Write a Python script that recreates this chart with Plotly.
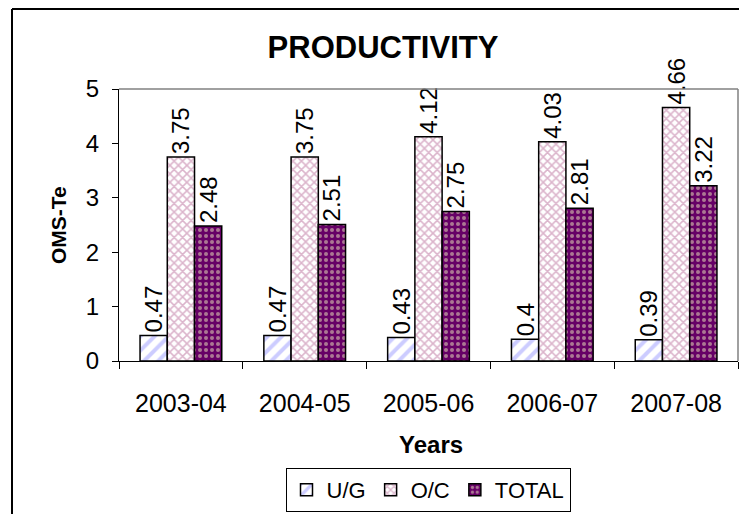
import plotly.graph_objects as go

years = ["2003-04", "2004-05", "2005-06", "2006-07", "2007-08"]
ug = [0.47, 0.47, 0.43, 0.40, 0.39]
oc = [3.75, 3.75, 4.12, 4.03, 4.66]
total = [2.48, 2.51, 2.75, 2.81, 3.22]
ug_text = ["0.47", "0.47", "0.43", "0.4", "0.39"]
oc_text = ["3.75", "3.75", "4.12", "4.03", "4.66"]
total_text = ["2.48", "2.51", "2.75", "2.81", "3.22"]

# page has an 8px body margin; figure is sized to fill the rest of the window
OFF = 8
W, H = 747 - OFF, 514 - OFF
L, R, T, B = 111, 9, 81, 153
pw, ph = W - L - R, H - T - B

def px(sx):
    return (sx - OFF - L) / pw

def py(sy):
    return (H - B - (sy - OFF)) / ph

font = "Liberation Sans, Arial, sans-serif"

fig = go.Figure()
fig.add_trace(go.Bar(
    name="U/G", x=years, y=ug, text=ug_text,
    marker=dict(color="white", line=dict(color="black", width=1.5),
                pattern=dict(shape="/", fgcolor="#9999FF", bgcolor="white", size=10, solidity=0.4)),
))
fig.add_trace(go.Bar(
    name="O/C", x=years, y=oc, text=oc_text,
    marker=dict(color="white", line=dict(color="black", width=1.5),
                pattern=dict(shape="x", fgcolor="#B86A98", bgcolor="white", size=6, solidity=0.45)),
))
fig.add_trace(go.Bar(
    name="TOTAL", x=years, y=total, text=total_text,
    marker=dict(color="#660066", line=dict(color="black", width=1.5),
                pattern=dict(shape=".", fgcolor="#F0F0C0", bgcolor="#660066", size=6, solidity=0.35)),
))
fig.update_traces(textposition="outside", textangle=-90, cliponaxis=False,
                  textfont=dict(family=font, size=24, color="black"))

fig.update_layout(
    width=W, height=H,
    margin=dict(l=L, r=R, t=T, b=B, autoexpand=False),
    paper_bgcolor="white", plot_bgcolor="white",
    barmode="group", bargap=0.34, bargroupgap=0,
    showlegend=True,
    uniformtext=dict(mode="show", minsize=24),
    title=dict(text="<b>PRODUCTIVITY</b>", x=(383 - OFF) / W, xref="container", xanchor="center",
               y=1 - (47 - OFF) / H, yref="container", yanchor="middle",
               font=dict(family=font, size=31, color="black")),
    legend=dict(orientation="h", x=px(428), xanchor="center", y=py(490), yanchor="middle",
                bordercolor="black", borderwidth=1, bgcolor="white",
                font=dict(family=font, size=22, color="black"),
                itemwidth=30, traceorder="normal", tracegroupgap=0),
    xaxis=dict(type="category", showline=True, linecolor="black", linewidth=1,
               ticks="outside", tickson="boundaries", ticklen=7, tickcolor="black",
               tickfont=dict(family=font, size=25, color="black"),
               ticklabelstandoff=20, showgrid=False),
    yaxis=dict(range=[0, 5], dtick=1, showline=True, linecolor="black", linewidth=1,
               ticks="outside", ticklen=6, tickcolor="black",
               tickfont=dict(family=font, size=24, color="black"),
               ticklabelstandoff=8, showgrid=False, zeroline=False),
    annotations=[
        dict(text="<b>Years</b>", x=px(431), y=py(444), xref="paper", yref="paper",
             showarrow=False, font=dict(family=font, size=24, color="black"),
             xanchor="center", yanchor="middle"),
        dict(text="<b>OMS-Te</b>", x=px(58), y=py(225), xref="paper", yref="paper",
             showarrow=False, textangle=-90, font=dict(family=font, size=21, color="black"),
             xanchor="center", yanchor="middle"),
    ],
    shapes=[
        dict(type="line", xref="paper", yref="paper", x0=0, x1=1, y0=1, y1=1,
             line=dict(color="#808080", width=1.5)),
        dict(type="line", xref="paper", yref="paper", x0=1, x1=1, y0=0, y1=1,
             line=dict(color="#808080", width=1.5)),
        dict(type="line", xref="paper", yref="paper", x0=px(12), x1=px(12), y0=py(9), y1=py(530),
             line=dict(color="black", width=2)),
        dict(type="line", xref="paper", yref="paper", x0=px(12), x1=px(760), y0=py(9), y1=py(9),
             line=dict(color="black", width=2)),
    ],
)

fig.write_html("out.html")
